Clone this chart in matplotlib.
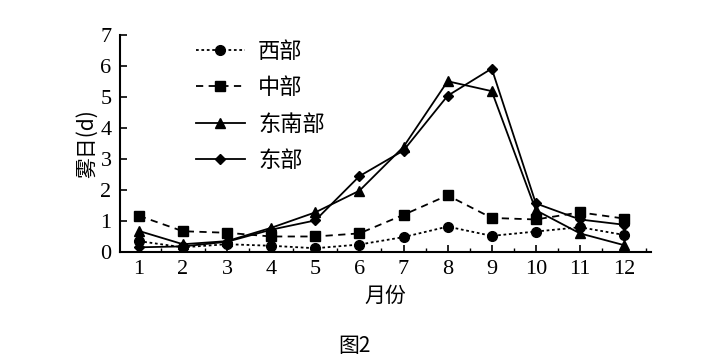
import matplotlib
matplotlib.use("Agg")
import matplotlib.pyplot as plt
from matplotlib.ticker import MultipleLocator

months = [1, 2, 3, 4, 5, 6, 7, 8, 9, 10, 11, 12]
west = [0.35, 0.15, 0.25, 0.2, 0.12, 0.24, 0.48, 0.82, 0.52, 0.66, 0.8, 0.55]
central = [1.17, 0.67, 0.62, 0.5, 0.5, 0.6, 1.2, 1.83, 1.1, 1.05, 1.28, 1.08]
southeast = [0.68, 0.25, 0.35, 0.78, 1.28, 1.98, 3.4, 5.52, 5.2, 1.35, 0.6, 0.22]
east = [0.15, 0.18, 0.33, 0.72, 1.02, 2.45, 3.28, 5.05, 5.93, 1.57, 1.05, 0.88]
names = ["西部", "中部", "东南部", "东部"]
xlabel = "月份"
ylabel = "雾日(d)"
caption = "图2"

plt.rcParams['font.family'] = ['Liberation Serif', 'Noto Sans CJK SC']

fig = plt.figure(figsize=(7.01, 3.62), dpi=100)
ax = fig.add_axes([0.171, 0.304, 0.757, 0.598])

lw = 1.3
ax.plot(months, west, linestyle=(0, (1.5, 1.5)), color='black', lw=lw,
        marker='o', markersize=7, label=names[0])
ax.plot(months, central, linestyle=(0, (4, 3)), color='black', lw=lw,
        marker='s', markersize=7, label=names[1])
ax.plot(months, southeast, linestyle='-', color='black', lw=lw,
        marker='^', markersize=7, label=names[2])
ax.plot(months, east, linestyle='-', color='black', lw=lw,
        marker='D', markersize=5, label=names[3])

ax.set_xlim(0.57, 12.6)
ax.set_ylim(0, 7)
ax.set_xticks(months)
ax.set_yticks(range(0, 8))
ax.xaxis.set_minor_locator(MultipleLocator(0.5))
ax.tick_params(axis='both', which='major', direction='in', length=5, width=1.2,
               labelsize=16, pad=6)
ax.tick_params(axis='x', which='minor', direction='in', length=3, width=1.0)
ax.tick_params(axis='y', which='minor', left=False)
for s in ['top', 'right']:
    ax.spines[s].set_visible(False)
for s in ['left', 'bottom']:
    ax.spines[s].set_linewidth(1.5)

ax.set_xlabel(xlabel, fontsize=15, family=['Noto Sans CJK SC'], labelpad=4)
ax.set_ylabel(ylabel, fontsize=15, family=['Noto Sans CJK SC', 'Liberation Serif'], labelpad=2)

leg = ax.legend(loc='upper left', bbox_to_anchor=(0.135, 1.0), frameon=False,
                prop={'family': 'Noto Sans CJK SC', 'size': 16},
                handlelength=2.2, labelspacing=0.6, handletextpad=0.6,
                borderpad=0.2, borderaxespad=0)

fig.text(0.505, 0.045, caption, ha='center', va='center', fontsize=15,
         family=['Noto Sans CJK SC', 'Liberation Serif'])

fig.savefig("out.png", dpi=100)
